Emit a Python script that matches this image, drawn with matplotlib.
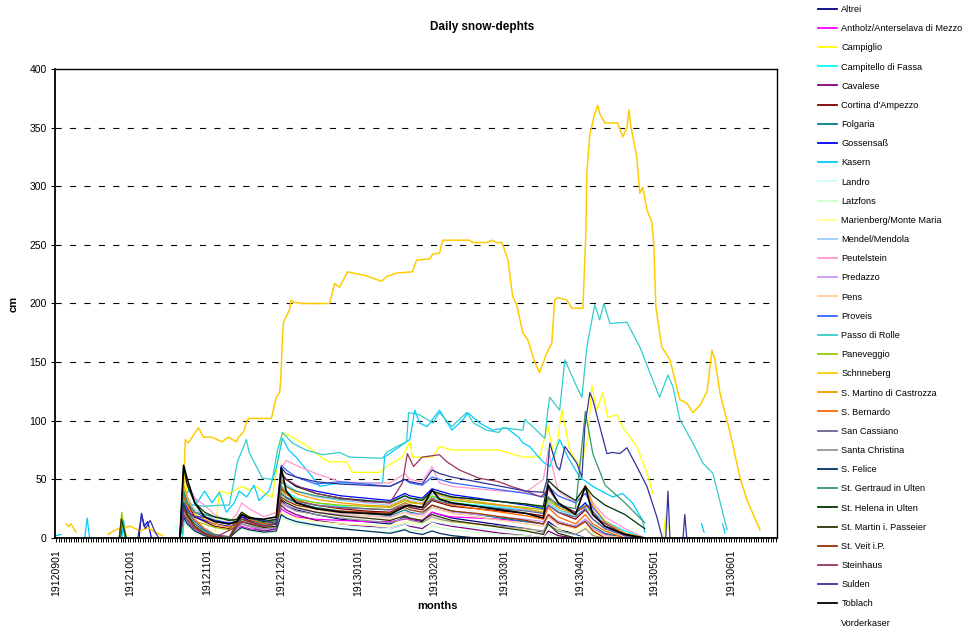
import numpy as np
import matplotlib
matplotlib.use("Agg")
import matplotlib.pyplot as plt
from matplotlib.lines import Line2D

plt.rcParams['font.family'] = ['Liberation Sans', 'DejaVu Sans']

_ = np.nan

# x positions are day numbers counted from 1912-09-01
month_days = [0, 30, 61, 91, 122, 153, 181, 212, 242, 273]
month_labels = ['19120901', '19121001', '19121101', '19121201', '19130101',
                '19130201', '19130301', '19130401', '19130501', '19130601']

stations = ['Altrei', 'Antholz/Anterselava di Mezzo', 'Campiglio', 'Campitello di Fassa',
            'Cavalese', "Cortina d'Ampezzo", 'Folgaria', 'Gossensaß', 'Kasern', 'Landro',
            'Latzfons', 'Marienberg/Monte Maria', 'Mendel/Mendola', 'Peutelstein', 'Predazzo',
            'Pens', 'Proveis', 'Passo di Rolle', 'Paneveggio', 'Schnneberg',
            'S. Martino di Castrozza', 'S. Bernardo', 'San Cassiano', 'Santa Christina',
            'S. Felice', 'St. Gertraud in Ulten', 'St. Helena in Ulten', 'St. Martin i. Passeier',
            'St. Veit i.P.', 'Steinhaus', 'Sulden', 'Toblach', 'Vorderkaser']

colors = ['#000080', '#FF00FF', '#FFFF00', '#00FFFF', '#800080', '#800000', '#008080',
          '#0000FF', '#00CCFF', '#CCFFFF', '#CCFFCC', '#FFFF99', '#99CCFF', '#FF99CC',
          '#CC99FF', '#FFCC99', '#3366FF', '#33CCCC', '#99CC00', '#FFCC00', '#FF9900',
          '#FF6600', '#666699', '#969696', '#003366', '#339966', '#003300', '#333300',
          '#993300', '#993366', '#333399', '#000000', 'none']

# common day grid used by most stations
grid_days = [50, 51.5, 53, 56, 60, 64, 70, 73, 75, 78, 84, 89, 91, 93, 97, 105, 115, 125,
             135, 141, 143, 148, 152, 155, 160, 170, 180, 190, 197, 199, 203, 210, 214, 217,
             222, 230, 238]

altrei_cm = [0, 30, 22, 10, 4, 0, 0, 10, 14, 12, 8, 9, 32, 28, 24, 20, 16, 14,
             12, 18, 16, 14, 22, 20, 17, 14, 11, 8, 5, 14, 8, 3, 0, _, _, _, _]
antholz_cm = [0, 20, 15, 8, 3, 0, 0, 8, 10, 8, 6, 8, 25, 22, 18, 16, 15, 14,
              14, 16, 16, 15, 22, 20, 18, 17, 16, 14, 12, 18, 12, 10, 14, 8, 3, 0, _]
campitello_cm = [0, 25, 18, 10, 5, 2, 0, 10, 14, 12, 10, 12, 45, 40, 34, 30, 27, 25,
                 24, 30, 28, 26, 35, 33, 30, 28, 26, 24, 22, 30, 24, 20, 30, 22, 14, 6, 0]
cavalese_cm = [0, 22, 14, 6, 2, 0, 0, 8, 12, 10, 6, 8, 28, 24, 20, 15, 12, 10,
               8, 12, 10, 8, 14, 12, 10, 7, 4, 2, 0, 6, 2, 0, _, _, _, _, _]
cortina_cm = [0, 40, 30, 18, 14, 10, 8, 14, 18, 15, 12, 14, 42, 38, 32, 28, 25, 23,
              22, 28, 26, 24, 32, 30, 27, 25, 23, 21, 19, 28, 22, 16, 24, 16, 8, 2, 0]
folgaria_cm = [0, 28, 20, 12, 6, 2, 0, 12, 16, 14, 10, 12, 38, 34, 30, 26, 23, 21,
               19, 24, 22, 20, 28, 26, 23, 20, 17, 14, 12, 20, 14, 10, 16, 10, 4, 0, _]
gossensass_cm = [0, 35, 25, 18, 15, 12, 10, 12, 18, 15, 11, 13, 55, 50, 44, 40, 36, 34,
                 32, 38, 36, 34, 42, 40, 37, 34, 31, 28, 25, 34, 28, 22, 30, 20, 10, 2, 0]
landro_cm = [8, 20, 15, 8, 3, 0, 0, 6, 8, 6, 4, 6, 20, 18, 15, 12, 10, 9,
             8, 12, 11, 10, 14, 13, 11, 9, 7, 5, 4, 10, 5, 2, 0, _, _, _, _]
latzfons_cm = [0, 15, 10, 5, 2, 0, 0, 5, 8, 6, 4, 5, 18, 15, 12, 10, 8, 6,
               5, 8, 7, 6, 10, 9, 7, 5, 3, 2, 0, 4, 0, _, _, _, _, _, _]
marienberg_cm = [0, 18, 12, 6, 2, 0, 0, 6, 9, 7, 5, 6, 22, 20, 17, 14, 12, 11,
                 10, 14, 13, 12, 16, 15, 13, 11, 9, 7, 6, 12, 8, 5, 10, 4, 0, _, _]
mendel_cm = [0, 45, 35, 24, 20, 16, 12, 15, 20, 18, 14, 16, 50, 46, 40, 35, 32, 30,
             28, 34, 32, 30, 38, 36, 33, 30, 27, 24, 21, 30, 24, 18, 26, 16, 8, 2, 0]
peutelstein_cm = [0, 50, 45, 34, 28, 20, 14, 20, 30, 25, 18, 22, 60, 66, 62, 55, 48, 47,
                  47, 55, 50, 48, 61, 47, 44, 42, 40, 39, 50, 75, 40, 30, 45, 30, 18, 8, 0]
predazzo_cm = [0, 20, 14, 8, 3, 0, 0, 8, 12, 10, 7, 9, 30, 28, 25, 22, 20, 19,
               18, 22, 21, 20, 26, 24, 22, 20, 18, 16, 14, 20, 14, 10, 16, 8, 2, 0, _]
pens_cm = [0, 25, 18, 10, 4, 1, 0, 10, 14, 12, 8, 10, 35, 32, 28, 24, 21, 19,
           17, 22, 20, 18, 26, 24, 21, 18, 15, 12, 10, 18, 12, 8, 14, 7, 2, 0, _]
proveis_cm = [0, 38, 30, 22, 18, 15, 13, 14, 20, 17, 13, 15, 62, 58, 52, 46, 48, 46,
              44, 50, 47, 45, 52, 50, 47, 44, 41, 38, 35, 44, 36, 30, 38, 26, 14, 4, 0]
paneveggio_cm = [0, 30, 22, 14, 12, 9, 7, 12, 16, 14, 11, 13, 40, 37, 33, 30, 28, 27,
                 26, 32, 30, 29, 36, 34, 32, 30, 28, 26, 24, 32, 26, 22, 28, 20, 12, 4, 0]
smartino_cm = [0, 45, 35, 20, 16, 12, 9, 15, 22, 18, 14, 16, 50, 44, 38, 33, 30, 28,
               27, 33, 31, 29, 40, 37, 34, 31, 28, 25, 22, 35, 26, 20, 45, 28, 14, 4, 0]
sbernardo_cm = [0, 35, 28, 16, 8, 3, 1, 14, 20, 16, 12, 14, 44, 38, 32, 28, 26, 25,
                24, 30, 28, 26, 34, 31, 28, 25, 22, 19, 16, 26, 18, 12, 20, 12, 6, 0, _]
sancassiano_cm = [0, 30, 24, 14, 7, 3, 1, 12, 16, 14, 11, 12, 38, 35, 31, 28, 26, 25,
                  24, 28, 27, 26, 33, 31, 29, 27, 25, 23, 21, 28, 22, 18, 25, 16, 8, 2, 0]
santachristina_cm = [0, 22, 16, 9, 4, 1, 0, 9, 12, 10, 8, 9, 30, 27, 23, 20, 17, 15,
                     13, 17, 15, 13, 18, 16, 14, 12, 10, 8, 6, 12, 6, 3, 8, 2, 0, _, _]
sfelice_cm = [0, 18, 12, 6, 2, 0, 0, 6, 9, 7, 5, 6, 20, 17, 14, 11, 8, 6,
              4, 7, 5, 3, 6, 4, 2, 0, _, _, _, _, _, _, _, _, _, _, _]
stgertraud_cm = [0, 40, 30, 22, 20, 18, 16, 14, 20, 17, 13, 15, 48, 44, 40, 36, 33, 32,
                 31, 36, 34, 33, 40, 38, 35, 33, 31, 29, 26, 35, 28, 25, 108, 72, 45, 30, 13]
sthelena_cm = [0, 60, 45, 30, 22, 18, 15, 16, 22, 18, 14, 16, 55, 50, 44, 38, 34, 32,
               30, 36, 34, 32, 40, 38, 35, 33, 31, 29, 27, 49, 41, 32, 44, 36, 28, 20, 8]
stmartin_cm = [0, 28, 20, 10, 4, 1, 0, 10, 14, 12, 9, 10, 33, 30, 26, 22, 19, 17,
               15, 19, 17, 15, 20, 18, 15, 12, 9, 6, 3, 12, 4, 0, _, _, _, _, _]
stveit_cm = [0, 25, 18, 10, 4, 1, 0, 12, 16, 14, 10, 12, 35, 32, 28, 25, 23, 22,
             21, 26, 24, 22, 28, 26, 23, 21, 18, 15, 12, 20, 13, 9, 14, 6, 0, _, _]
toblach_cm = [0, 62, 50, 30, 18, 14, 12, 14, 20, 17, 16, 18, 60, 40, 30, 25, 22, 21,
              20, 27, 28, 26, 41, 33, 30, 27, 24, 21, 17, 45, 30, 20, 44, 20, 10, 3, 0]

# autumn snowfalls (Sep/Oct)
paneveggio_early_days = [25.5, 26.5, 27.5, 28.5]
paneveggio_early_cm = [0, 22, 8, 0]
folgaria_early_days = [25.5, 26.5, 27.0, 28.0]
folgaria_early_cm = [0, 18, 12, 0]
stgertraud_early_days = [25.8, 26.8, 27.8]
stgertraud_early_cm = [0, 14, 0]
cavalese_early_days = [26.0, 27.0, 28.0]
cavalese_early_cm = [0, 12, 0]
stmartin_early_days = [25.5, 26.3, 27.3, 28.3]
stmartin_early_cm = [0, 16, 9, 0]
gossensass_early_days = [33.5, 34.5, 35.5, 37.0, 38.5]
gossensass_early_cm = [0, 21, 10, 14, 0]
landro_early_days = [46.5, 48.0, 50.0]
landro_early_cm = [4, 12, 2]

# stations with their own, finer day lists
schneeberg_days = [4, 5, 6, 8, _, 21, 24, 27, 30, 32, 34, 37, 40, 43, _,
                   51, 52.2, 53.4, 57.5, 59.5, 63, 67, 69.6, 72.9, 73.7,
                   75.7, 77.3, 78, 87, 89, 90.3, 90.8, 91.5, 91.9, 93,
                   94.3, 95, 96, 100, 110.5, 112.6, 114.6, 117.8, 124.7, 131.6,
                   133.6, 137.7, 144.1, 145.7, 151, 152.2, 155, 156.3, 167.2, 168.4,
                   174.1, 176.1, 178.1, 180.2, 182.6, 184.6, 186.2, 188.7, 190.7, 193.5,
                   195.5, 198.4, 200.4, 201.6, 202.8, 206.5, 208.5, 213, 214.2, 214.6,
                   215.8, 217.8, 219, 219.8, 221.9, 227.1, 229.1, 230.8, 231.6, 232.4,
                   234.8, 236, 237.2, 238.9, 240.9, 241.7, 242.5, 244.9, 248.2, 252.2,
                   255, 257.5, 260.3, 263.2, 265.2, 266.4, 268.4, 272.5, 276.5, 279.4,
                   284.6]
schneeberg_cm = [12, 10, 12, 5, _, 3, 7, 9, 10, 8, 6, 9, 5, 2, _,
                 15, 84, 81, 94, 86, 86, 82, 86, 82, 86,
                 90, 101, 102, 102, 120, 124, 135, 171, 184, 189,
                 194, 203, 201, 200, 200, 217, 214, 227, 224, 219,
                 223, 226, 227, 237, 238, 242, 243, 254, 254, 252,
                 252, 254, 252, 252, 238, 206, 199, 175, 169, 150,
                 141, 158, 166, 203, 205, 203, 196, 196, 260, 311,
                 344, 362, 369, 362, 354, 354, 342, 350, 365, 351,
                 325, 294, 299, 280, 269, 250, 197, 163, 152, 118,
                 115, 107, 113, 125, 160, 152, 124, 90, 52, 32,
                 7]

rolle_days = [51, 52.5, 56, 60, 66, 70, 73.3, 76.9, 78, 83.4, 87.4, 89.5,
              91.5, 95.5, 101, 107.7, 114.6, 118.6, 132, 133.6, 137.7, 141.7, 142.5, 147,
              152.4, 155, 160, 166, 168.8, 174, 179, 180.6, 188.7, 189.5, 192.7, 197.6,
              198.8, 199.6, 203.6, 205.7, 210.5, 212.6, 214.6, 217.8, 219.8, 221.5, 223.9, 230.8,
              236, 244, 247.4, 249.4, 252.2, 257.5, 261.5, 265.6, 271.3]
rolle_cm = [0, 30, 28, 27, 28, 28, 65, 84, 73, 51, 50, 75,
            90, 81, 75, 71, 73, 69, 68, 73, 78, 82, 107, 105,
            98, 107, 95, 107, 98, 92, 90, 94, 92, 101, 95, 85,
            109, 120, 109, 152, 129, 120, 163, 199, 186, 200, 183, 184,
            163, 120, 139, 129, 101, 81, 64, 55, 7]

kasern_days = [0, 2, _, 11.5, 12.5, 13.5, _, 26.5, 27.3, 28, _,
               51, 52, 54, 57, 60, 63, 66, 68.8, 72, 74, 77, 80, 82, 86, 89,
               91.5, 94, 97, 103.6, 106.5, 114.6, 132, 132.8, 143, 145, 147, 150,
               155, 160, 164.6, 166.4, 171.3, 176.5, 182, 187, 188.7, 191.5, 196.8,
               199.6, 203.6, 206.9, 211.7, 217, 225, 229, 233, 237.2, 238, _,
               261, 262, _, 269.5, 270.5]
kasern_cm = [2, 3, _, 0, 17, 0, _, 0, 15, 0, _,
             0, 35, 42, 30, 40, 30, 39, 22, 30, 40, 35, 45, 32, 40, 60,
             85, 75, 69, 52, 44, 47, 47, 69, 84, 109, 98, 95,
             109, 92, 101, 107, 98, 92, 94, 86, 81, 78, 65,
             61, 84, 69, 52, 44, 35, 38, 30, 15, 5, _,
             12, 5, _, 12, 4]

campiglio_days = [51, 52, 53.5, _, 64, 66, 70, 75, 78, 80.9, 85, 87.4, 91.5, 95.5,
                  101, 107.7, 110.5, 117.4, 119.8, 130.8, 133.6, 140, 143, 144.1, 152.2,
                  155, 160.3, 171, 179, 188.7, 195.5, 198.8, 201.6, 204.5, 207.7, 211.7,
                  215, 216.6, 218.6, 221, 223, 226.7, 229, 234.8, 239, 241.3, _,
                  245.5, 246.5, 247.5]
campiglio_cm = [0, 64, 20, _, 0, 40, 38, 44, 41, 44, 37, 35, 90, 86,
                79, 68, 65, 65, 56, 56, 61, 69, 82, 69, 69,
                78, 75, 75, 75, 69, 69, 96, 67, 109, 75, 61,
                84, 130, 109, 124, 103, 105, 95, 78, 55, 38, _,
                0, 20, 8]

steinhaus_days = [50, 51.5, 53, 56, 60, 64, 73, 75, 84, 89, 91, 93, 97, 105, 115, 125,
                  135, 140, 142, 144.5, 148, 155, 158, 163, 171, 179, 184, 190, 196, 199,
                  203, 210, 215, 220, 228, 235]
steinhaus_cm = [0, 20, 15, 8, 3, 0, 10, 14, 10, 12, 55, 50, 45, 38, 34, 31,
                30, 47, 72, 61, 69, 71, 65, 58, 51, 48, 44, 40, 35, 42,
                30, 22, 28, 15, 5, 0]

sulden_days = [33, 34.5, 36, 38, 40, 41.5, _, 50, 51.5, 53, 56, 60, 64, 70, 73, 75,
               84, 89, 91, 93, 97, 105, 115, 125, 135, 141, 143, 148, 152, 155, 160,
               170, 180, 190, 197, 198.4, 199.6, 202.4, 203.6, 205.7, 210.5, 212.6,
               213.8, 215.8, 217, 222.7, 225, 227.9, 230.8, 234.8, 238.9, 242.9, 245, _,
               246.5, 247.4, 248.2, _, 253.5, 254.2, 255]
sulden_cm = [0, 20, 8, 15, 5, 0, _, 0, 30, 22, 18, 18, 15, 12, 14, 18,
             15, 12, 60, 55, 52, 48, 46, 45, 44, 50, 48, 46, 58, 55, 52,
             48, 44, 40, 39, 49, 81, 61, 58, 78, 64, 52,
             95, 124, 118, 72, 73, 72, 77, 61, 44, 18, 1, _,
             0, 40, 0, _, 0, 20, 0]

vorderkaser_days = []
vorderkaser_cm = []

grid_series = {
    'Altrei': altrei_cm, 'Antholz/Anterselava di Mezzo': antholz_cm,
    'Campitello di Fassa': campitello_cm, 'Cavalese': cavalese_cm,
    "Cortina d'Ampezzo": cortina_cm, 'Folgaria': folgaria_cm, 'Gossensaß': gossensass_cm,
    'Landro': landro_cm, 'Latzfons': latzfons_cm, 'Marienberg/Monte Maria': marienberg_cm,
    'Mendel/Mendola': mendel_cm, 'Peutelstein': peutelstein_cm, 'Predazzo': predazzo_cm,
    'Pens': pens_cm, 'Proveis': proveis_cm, 'Paneveggio': paneveggio_cm,
    'S. Martino di Castrozza': smartino_cm, 'S. Bernardo': sbernardo_cm,
    'San Cassiano': sancassiano_cm, 'Santa Christina': santachristina_cm,
    'S. Felice': sfelice_cm, 'St. Gertraud in Ulten': stgertraud_cm,
    'St. Helena in Ulten': sthelena_cm, 'St. Martin i. Passeier': stmartin_cm,
    'St. Veit i.P.': stveit_cm, 'Toblach': toblach_cm,
}
own_series = {
    'Schnneberg': (schneeberg_days, schneeberg_cm),
    'Passo di Rolle': (rolle_days, rolle_cm),
    'Kasern': (kasern_days, kasern_cm),
    'Campiglio': (campiglio_days, campiglio_cm),
    'Steinhaus': (steinhaus_days, steinhaus_cm),
    'Sulden': (sulden_days, sulden_cm),
    'Vorderkaser': (vorderkaser_days, vorderkaser_cm),
}
early_series = {
    'Paneveggio': (paneveggio_early_days, paneveggio_early_cm),
    'Folgaria': (folgaria_early_days, folgaria_early_cm),
    'St. Gertraud in Ulten': (stgertraud_early_days, stgertraud_early_cm),
    'Cavalese': (cavalese_early_days, cavalese_early_cm),
    'St. Martin i. Passeier': (stmartin_early_days, stmartin_early_cm),
    'Gossensaß': (gossensass_early_days, gossensass_early_cm),
    'Landro': (landro_early_days, landro_early_cm),
}

W, H = 965, 627
fig = plt.figure(figsize=(W / 100, H / 100), dpi=100)
ax = fig.add_axes([55 / W, (H - 538) / H, 722 / W, 469 / H])

for name, col in zip(stations, colors):
    lw = 0.9
    if name == 'Toblach':
        lw = 1.2
    if name == 'Schnneberg':
        lw = 1.1
    if name in grid_series:
        vals = grid_series[name]
        assert len(vals) == len(grid_days), name
        ax.plot(grid_days, vals, color=col, lw=lw)
    if name in own_series:
        d, v = own_series[name]
        assert len(d) == len(v), name
        if len(d):
            ax.plot(d, v, color=col, lw=lw)
    if name in early_series:
        d, v = early_series[name]
        assert len(d) == len(v), name
        ax.plot(d, v, color=col, lw=lw)

ax.set_xlim(-0.5, 291.5)
ax.set_ylim(0, 400)
ax.set_yticks(np.arange(0, 401, 50))
ax.tick_params(axis='y', labelsize=7.5, length=3, width=0.8, pad=3)
ax.set_xticks(month_days)
ax.set_xticklabels(month_labels, rotation=90, fontsize=7.5)
ax.set_xticks(np.arange(0, 292, 1), minor=True)
ax.tick_params(axis='x', which='both', length=3, width=0.7, pad=5)
for y in range(50, 400, 50):
    ax.axhline(y, color='black', lw=0.8, ls=(0, (5.5, 7.5)), zorder=0)
for s in ax.spines.values():
    s.set_linewidth(1.0)
ax.spines['left'].set_linewidth(1.3)
ax.spines['bottom'].set_linewidth(1.3)

fig.text(482 / W, 1 - 27 / H, 'Daily snow-dephts', ha='center', va='center',
         fontsize=8.5, fontweight='bold')
fig.text(437 / W, 1 - 606 / H, 'months', ha='center', va='center',
         fontsize=8, fontweight='bold')
fig.text(14 / W, 1 - 304 / H, 'cm', ha='center', va='center', rotation=90,
         fontsize=8, fontweight='bold')

handles = [Line2D([], [], color=c, lw=1.3) for c in colors]
fig.legend(handles, stations, loc='upper left', bbox_to_anchor=(818 / W, 1 - 5 / H),
           frameon=False, fontsize=6.6, handlelength=2.1, handletextpad=0.45,
           labelspacing=1.11, borderpad=0.0, borderaxespad=0.0)

fig.savefig('out.png', dpi=100)
